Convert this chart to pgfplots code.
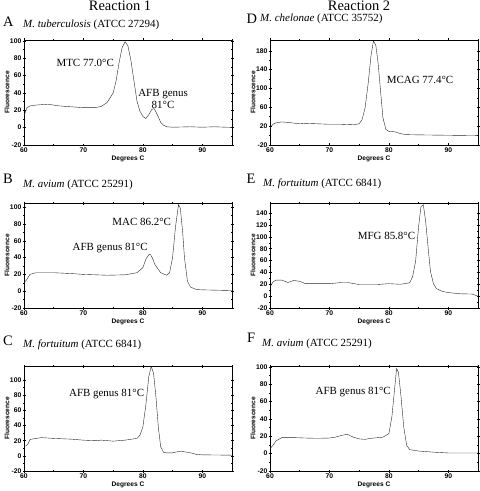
\documentclass[border=0pt]{standalone}
\usepackage{pgfplots}
\pgfplotsset{compat=1.18}
\usepackage{fontspec}
\setmainfont{Liberation Serif}
\newfontfamily\arialf{Liberation Sans}
\newcommand\tickfont{\fontsize{6.8}{7}\selectfont\arialf\bfseries}
\newcommand\labfont{\fontsize{6.6}{7}\selectfont\arialf\bfseries}

\tikzset{annot/.style={font=\fontsize{11}{12}\selectfont, inner sep=0pt}}
\pgfplotsset{panel/.style={
  scale only axis, width=208bp, height=105bp,
  xmin=60, xmax=95, xtick={60,70,80,90}, minor xtick={65,75,85,95},
  minor y tick num=1,
  tick align=center, major tick length=3bp, minor tick length=2bp,
  axis line style={line width=0.6pt}, every tick/.style={line width=0.5pt, black},
  /pgf/number format/assume math mode=true,
  xticklabel style={font=\tickfont, inner sep=1bp},
  yticklabel style={font=\tickfont, inner sep=1bp},
  xlabel={Degrees C}, ylabel={Fluorescence},
  every axis x label/.style={at={(axis description cs:0.5,0)}, yshift=-14bp, anchor=center, font=\labfont},
  every axis y label/.style={at={(axis description cs:0,0.5)}, xshift=-17bp, rotate=90, anchor=center, font=\labfont},
  cycle list={{black!85, line width=0.7pt, no marks, smooth, tension=0.4}},
}}

\begin{document}
\begin{tikzpicture}[x=1bp,y=1bp]
\useasboundingbox (0,0) rectangle (480,-491);

% titles
\node[anchor=base, inner sep=0pt, font=\fontsize{14.5}{15}\selectfont] at (120,-10.5) {Reaction 1};
\node[anchor=base, inner sep=0pt, font=\fontsize{14.5}{15}\selectfont] at (359,-10.5) {Reaction 2};
\begin{scope}[every node/.style={anchor=base west, inner sep=0pt}]
\node[font=\fontsize{14.5}{15}\selectfont] at (3,-26.7) {A};
\node[font=\fontsize{11}{12}\selectfont] at (23,-28) {\textit{M. tuberculosis} (ATCC 27294)};
\node[font=\fontsize{14.5}{15}\selectfont] at (246.5,-23.3) {D};
\node[font=\fontsize{11}{12}\selectfont] at (260,-21.2) {\textit{M. chelonae} (ATCC 35752)};
\node[font=\fontsize{14.5}{15}\selectfont] at (3,-183.3) {B};
\node[font=\fontsize{11}{12}\selectfont] at (23,-188) {\textit{M. avium} (ATCC 25291)};
\node[font=\fontsize{14.5}{15}\selectfont] at (246.5,-183.3) {E};
\node[font=\fontsize{11}{12}\selectfont] at (263,-187) {\textit{M. fortuitum} (ATCC 6841)};
\node[font=\fontsize{14.5}{15}\selectfont] at (3,-345) {C};
\node[font=\fontsize{11}{12}\selectfont] at (23,-347) {\textit{M. fortuitum} (ATCC 6841)};
\node[font=\fontsize{14.5}{15}\selectfont] at (247,-342.7) {F};
\node[font=\fontsize{11}{12}\selectfont] at (262,-346) {\textit{M. avium} (ATCC 25291)};
\end{scope}

% A
\begin{axis}[panel, at={(24bp,-40bp)}, anchor=north west, ymin=-20, ymax=101, ytick={-20,0,...,100}]
\addplot table {
60 13.5
60.5 23
61 25
62 26
64 27
65 26
66 25
68 24
70 23
72 23
73 24.5
74 29
75 40
75.5 54
76 75
76.5 92
77 99
77.5 94
78 77
78.5 54
79 31
79.5 19
80 13
80.5 10.5
81 15
81.5 21
81.9 22
82.5 14
83 6
83.5 2.7
84 1
85 0.5
88 1
90 0.5
92 1
95 0.3
};
\node[annot] at (axis cs:70.3,74.7) {MTC 77.0°C};
\node[annot, align=center] at (axis cs:83.4,33.5) {AFB genus\\81°C};
\end{axis}

% D
\begin{axis}[panel, at={(270bp,-40bp)}, anchor=north west, ymin=-20, ymax=203, ytick={-20,20,60,100,140,180}]
\addplot table {
60 16.5
60.5 24
61 27
62 29
63 28
64 26.5
65 25
66 26
68 25
70 24
72 24
74 23
75 25
75.5 34
76 59
76.5 109
77 170
77.4 201
77.8 192
78.2 153
78.6 95
79 38
79.5 13
80 9
81 8
82 4
83 2
85 1.5
90 0.7
95 0
};
\node[annot] at (axis cs:85.25,118.8) {MCAG 77.4°C};
\end{axis}

% B
\begin{axis}[panel, at={(24bp,-203bp)}, anchor=north west, ymin=-20, ymax=105, ytick={-20,0,...,100}]
\addplot table {
60 10
60.5 14
61 20
62 22
63 22
65 22
68 21
70 20
74 19
77 19.5
79 22
80 28
80.5 38
81 43.5
81.3 43.5
81.7 38
82 32
83 22
84 19
84.5 22
85 40
85.5 77
86 103
86.3 99
86.7 70
87 40
87.5 12
88 5
89 2
90 1.6
95 0.8
};
\node[annot] at (axis cs:79.8,82.6) {MAC 86.2°C};
\node[annot] at (axis cs:74.5,51.7) {AFB genus 81°C};
\end{axis}

% E
\begin{axis}[panel, at={(270bp,-203bp)}, anchor=north west, ymin=-20, ymax=157, ytick={-20,0,...,140}]
\addplot table {
60 15.6
60.5 24
61 27
62 27
63 23
64 26.5
65 25
66 21
68 21
70 21
72 23
73 23
75 19.6
78 19.6
80 21
82 20
83.5 22.5
84 33
84.5 59
85 117
85.4 151
85.8 154
86.2 125
86.6 82
87 41.6
87.5 21
88 12.7
89 8
90 6
92 4
94 3.5
95 0
};
\node[annot] at (axis cs:79.6,100.7) {MFG 85.8°C};
\end{axis}

% C
\begin{axis}[panel, at={(24bp,-366bp)}, anchor=north west, ymin=-20, ymax=118.5, ytick={-20,0,...,100}]
\addplot table {
60.3 13
60.7 16
61 21.6
62 23
63 24
65 23
68 22
70 20.7
72 20
73 20.7
75 19.4
77 20.7
79 23
79.5 27
80 38
80.5 67
81 104.5
81.4 117.8
81.8 109
82.2 78
82.6 38
83 12
83.5 4.4
84 4
85 4
86 5.7
86.5 6.2
87 5.3
88 4
89 2
90 1.3
95 0.9
};
\node[annot] at (axis cs:73.9,81.5) {AFB genus 81°C};
\end{axis}

% F
\begin{axis}[panel, at={(270bp,-366bp)}, anchor=north west, ymin=-20, ymax=101, ytick={-20,0,...,100}]
\addplot table {
60 5.8
60.5 9.6
61 14.6
62 18.5
64 18.5
66 18
68 17.7
70 18
71 19
72 21
73 22.3
74 19
75 17
76 16.5
77 17.7
79 19
80 23
80.5 42
81 77
81.3 98
81.6 94
82 69
82.5 31
83 9.6
83.5 4.6
85 3
88 1.5
90 0.8
95 0.8
};
\node[annot] at (axis cs:74,71.2) {AFB genus 81°C};
\end{axis}
\end{tikzpicture}
\end{document}
